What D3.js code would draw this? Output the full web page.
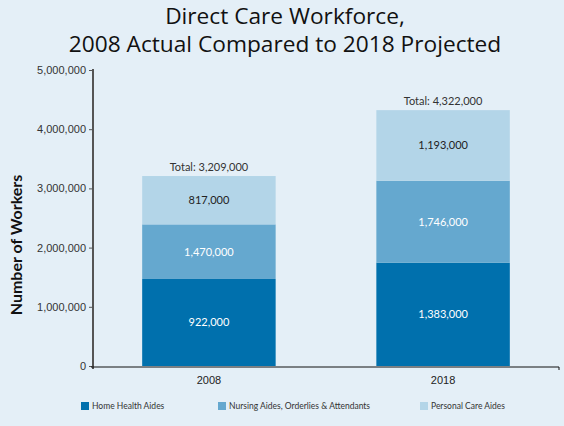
<!DOCTYPE html>
<html>
<head>
<meta charset="utf-8">
<script src="https://cdn.jsdelivr.net/npm/d3@7"></script>
<style>
  body { margin: 0; background: #e4eff7; }
  svg { display: block; font-family: Lato, "Open Sans", sans-serif; }
</style>
</head>
<body>
<svg id="chart" width="564" height="426"></svg>
<script>
// data
var years = ["2008", "2018"];
var series = ["Home Health Aides", "Nursing Aides, Orderlies & Attendants", "Personal Care Aides"];
var homeHealth = [922000, 1383000];
var nursing = [1470000, 1746000];
var personalCare = [817000, 1193000];
var totals = [3209000, 4322000];
var yTicks = [0, 1000000, 2000000, 3000000, 4000000, 5000000];

var colors = ["#0070ad", "#65a8cf", "#b3d5e8"];
var labelColors = ["#ffffff", "#ffffff", "#222222"];

// the source figure draws the two lower segments with their heights swapped
// (dark block is as tall as the nursing count, mid block as tall as home health)
var segHeights = [nursing, homeHealth, personalCare];
var segLabels = [homeHealth, nursing, personalCare];

var svg = d3.select("#chart");

svg.append("rect")
    .attr("width", 564)
    .attr("height", 426)
    .attr("fill", "#e4eff7");

// title
svg.append("text")
    .attr("x", 285).attr("y", 24)
    .attr("text-anchor", "middle")
    .style("font-family", "'Open Sans', sans-serif")
    .style("font-size", "22.7px")
    .style("fill", "#111")
    .text("Direct Care Workforce,");
svg.append("text")
    .attr("x", 285).attr("y", 52)
    .attr("text-anchor", "middle")
    .style("font-family", "'Open Sans', sans-serif")
    .style("font-size", "22.7px")
    .style("fill", "#111")
    .text("2008 Actual Compared to 2018 Projected");

var x = d3.scaleBand()
    .domain(years)
    .range([93, 559])
    .paddingInner(0.43)
    .paddingOuter(0.21);

var y = d3.scaleLinear()
    .domain([0, 5000000])
    .range([366, 70]);

// build stacked table
var table = years.map(function (yr, i) {
    return { year: yr, s0: segHeights[0][i], s1: segHeights[1][i], s2: segHeights[2][i] };
});
var layers = d3.stack().keys(["s0", "s1", "s2"])(table);

var groups = svg.selectAll(".layer")
    .data(layers)
    .enter()
    .append("g")
    .attr("class", "layer")
    .attr("fill", function (d, i) { return colors[i]; });

groups.selectAll("rect")
    .data(function (d) { return d; })
    .enter()
    .append("rect")
    .attr("x", function (d) { return x(d.data.year); })
    .attr("y", function (d) { return y(d[1]); })
    .attr("width", x.bandwidth())
    .attr("height", function (d) { return y(d[0]) - y(d[1]); });

// segment values
layers.forEach(function (layer, li) {
    svg.selectAll(".val" + li)
        .data(layer)
        .enter()
        .append("text")
        .attr("class", "val" + li)
        .attr("x", function (d) { return x(d.data.year) + x.bandwidth() / 2; })
        .attr("y", function (d) { return (y(d[0]) + y(d[1])) / 2 + 4; })
        .attr("text-anchor", "middle")
        .style("font-size", "11px")
        .style("fill", labelColors[li])
        .text(function (d, i) { return d3.format(",")(segLabels[li][i]); });
});

// totals
svg.selectAll(".total")
    .data(years)
    .enter()
    .append("text")
    .attr("class", "total")
    .attr("x", function (d) { return x(d) + x.bandwidth() / 2; })
    .attr("y", function (d, i) { return y(d3.sum(segHeights, function (s) { return s[i]; })) - 5; })
    .attr("text-anchor", "middle")
    .style("font-size", "11px")
    .style("fill", "#333")
    .text(function (d, i) { return "Total: " + d3.format(",")(totals[i]); });

// y axis
var yAxis = svg.append("g")
    .attr("transform", "translate(93,0)")
    .call(d3.axisLeft(y).tickValues(yTicks).tickSize(4).tickPadding(3).tickFormat(d3.format(",")));
yAxis.select(".domain").attr("stroke", "#555").attr("stroke-width", 2)
    .attr("d", "M0,69V369");
yAxis.selectAll(".tick line").attr("stroke", "#555");
yAxis.selectAll(".tick text").style("font-size", "11px").style("fill", "#333");

// x axis
var xAxis = svg.append("g")
    .attr("transform", "translate(0,367)")
    .call(d3.axisBottom(x).tickSize(0).tickPadding(9));
xAxis.select(".domain").attr("stroke", "#111").attr("d", "M91,0H559V3");
xAxis.selectAll(".tick text").style("font-size", "11px").style("fill", "#222");

// y title
svg.append("text")
    .attr("transform", "translate(22,245) rotate(-90)")
    .attr("text-anchor", "middle")
    .style("font-size", "16px")
    .style("font-weight", "bold")
    .style("fill", "#111")
    .text("Number of Workers");

// legend
var legendX = [81, 218, 420];
var legend = svg.selectAll(".legend")
    .data(series)
    .enter()
    .append("g")
    .attr("class", "legend")
    .attr("transform", function (d, i) { return "translate(" + legendX[i] + ",406)"; });
legend.append("rect")
    .attr("x", 0).attr("y", -4)
    .attr("width", 8).attr("height", 8)
    .attr("fill", function (d, i) { return colors[i]; });
legend.append("text")
    .attr("x", 11).attr("y", 3)
    .style("font-size", "8.5px")
    .style("fill", "#333")
    .text(function (d) { return d; });
</script>
</body>
</html>
